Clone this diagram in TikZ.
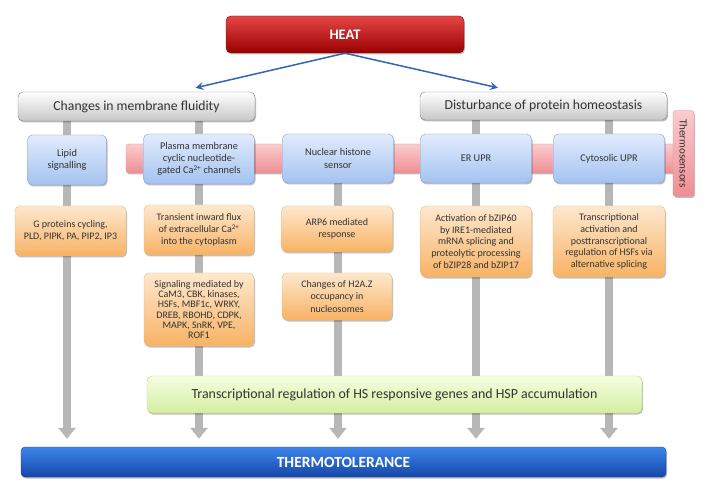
\documentclass[tikz,border=0pt]{standalone}
\usepackage{fontspec}
\setmainfont{Carlito}
\usetikzlibrary{arrows.meta,shadows,backgrounds}
\definecolor{txt}{HTML}{333333}
\definecolor{greyline}{HTML}{B7B7B7}
\definecolor{heatarrow}{HTML}{3465B0}
\begin{document}
\begin{tikzpicture}[x=1pt,y=-1pt,
  box/.style={rounded corners=5pt, align=center, inner sep=0pt, text=txt,
    drop shadow={shadow xshift=1pt, shadow yshift=-1.5pt, opacity=.25, fill=black}},
  heatbox/.style={box, top color=red!70!white!90!black, bottom color=red!60!black, draw=red!50!black,
    text=white, font=\fontsize{14.5}{16}\selectfont\bfseries},
  greybox/.style={box, top color=white, bottom color=black!22, draw=black!50,
    font=\fontsize{13.7}{16}\selectfont},
  pinkbox/.style={box, rounded corners=3pt, top color={rgb,255:red,251;green,204;blue,206},
    bottom color={rgb,255:red,238;green,142;blue,148}, draw={rgb,255:red,229;green,150;blue,153},
    font=\fontsize{11}{12}\selectfont},
  bluebox/.style={box, top color={rgb,255:red,226;green,236;blue,252}, bottom color={rgb,255:red,164;green,194;blue,240},
    draw={rgb,255:red,128;green,160;blue,212}, font=\fontsize{10.3}{12.3}\selectfont},
  orangebox/.style={box, top color={rgb,255:red,253;green,232;blue,206}, bottom color={rgb,255:red,248;green,178;blue,100},
    draw={rgb,255:red,242;green,186;blue,124}, font=\fontsize{10}{11.7}\selectfont},
  greenbox/.style={box, top color={rgb,255:red,246;green,253;blue,224}, bottom color={rgb,255:red,212;green,238;blue,160},
    draw={rgb,255:red,186;green,216;blue,138}, font=\fontsize{13.9}{15}\selectfont},
  tolbox/.style={box, rounded corners=4pt, top color={rgb,255:red,60;green,134;blue,234}, bottom color={rgb,255:red,22;green,70;blue,170},
    draw={rgb,255:red,28;green,62;blue,140}, text=white, font=\fontsize{15.5}{17}\selectfont\bfseries},
  greyarr/.style={line width=8pt, draw=greyline, -{Triangle[width=17pt,length=11pt]}, shorten >=8pt},
  heatarr/.style={line width=1.5pt, draw=heatarrow, -{Stealth[length=8pt,width=8pt,inset=3pt]}}
]
\useasboundingbox (0,0) rectangle (707,489);

\node[heatbox, minimum width=238, minimum height=37] (heat) at (345,34.5) {HEAT};
\node[greybox, minimum width=237, minimum height=29] (mem) at (136.5,106.5) {Changes in membrane fluidity};
\node[greybox, minimum width=247, minimum height=28] (dist) at (543.5,106) {Disturbance of protein homeostasis};

\node[pinkbox, minimum width=552, minimum height=29] (band) at (402,158.5) {};
\node[pinkbox, rotate=-90, minimum width=86, minimum height=21] (sensors) at (683.5,153.5) {Thermosensors};

\node[bluebox, minimum width=79, minimum height=50] (lipid) at (67,160) {Lipid\\signalling};
\node[bluebox, minimum width=111, minimum height=50] (plasma) at (199,159) {Plasma membrane\\cyclic nucleotide-\\gated Ca\textsuperscript{2+} channels};
\node[bluebox, minimum width=111, minimum height=49] (nuclear) at (338,158.5) {Nuclear histone\\sensor};
\node[bluebox, minimum width=111, minimum height=49] (er) at (476,158.5) {ER UPR};
\node[bluebox, minimum width=111, minimum height=49] (cyto) at (609,158.5) {Cytosolic UPR};

\node[orangebox, minimum width=111, minimum height=50] (gprot) at (70.5,231) {G proteins cycling,\\PLD, PIPK, PA, PIP2, IP3};
\node[orangebox, minimum width=110, minimum height=50] (transient) at (199,230) {Transient inward flux\\of extracellular Ca\textsuperscript{2+}\\into the cytoplasm};
\node[orangebox, minimum width=111, minimum height=46] (arp6) at (337,229) {ARP6 mediated\\response};
\node[orangebox, minimum width=111, minimum height=71] (activ) at (476,241.5) {Activation of bZIP60\\by IRE1-mediated\\mRNA splicing and\\proteolytic processing\\of bZIP28 and bZIP17};
\node[orangebox, minimum width=112, minimum height=71] (transcr) at (609,241.5) {Transcriptional\\activation and\\posttranscriptional\\regulation of HSFs via\\alternative splicing};
\node[orangebox, minimum width=110, minimum height=73, font=\fontsize{10}{10.2}\selectfont] (signal) at (199,309.5) {Signaling mediated by\\CaM3, CBK, kinases,\\HSFs, MBF1c, WRKY,\\DREB, RBOHD, CDPK,\\MAPK, SnRK, VPE,\\ROF1};
\node[orangebox, minimum width=110, minimum height=47, font=\fontsize{10}{12.3}\selectfont] (h2az) at (337,296.5) {Changes of H2A.Z\\occupancy in\\nucleosomes};

\node[greenbox, minimum width=495, minimum height=37] (green) at (394.5,394.5) {Transcriptional regulation of HS responsive genes and HSP accumulation};
\node[tolbox, minimum width=645, minimum height=30] (tol) at (343.5,462) {THERMOTOLERANCE};

\draw[heatarr] (heat.south) -- ([xshift=59pt,yshift=4pt]mem.north);
\draw[heatarr] (heat.south) -- ([xshift=-45.5pt,yshift=4pt]dist.north);

\begin{scope}[on background layer]
  \fill[white] (0,0) rectangle (707,489);
  \draw[greyarr] (mem.south -| lipid) -- (tol.north -| lipid);
  \draw[greyarr] (mem.south -| plasma) -- (tol.north -| plasma);
  \draw[greyarr] (nuclear) -- (tol.north -| nuclear);
  \draw[greyarr] (dist.south -| er) -- (tol.north -| er);
  \draw[greyarr] (dist.south -| cyto) -- (tol.north -| cyto);
\end{scope}
\end{tikzpicture}
\end{document}
